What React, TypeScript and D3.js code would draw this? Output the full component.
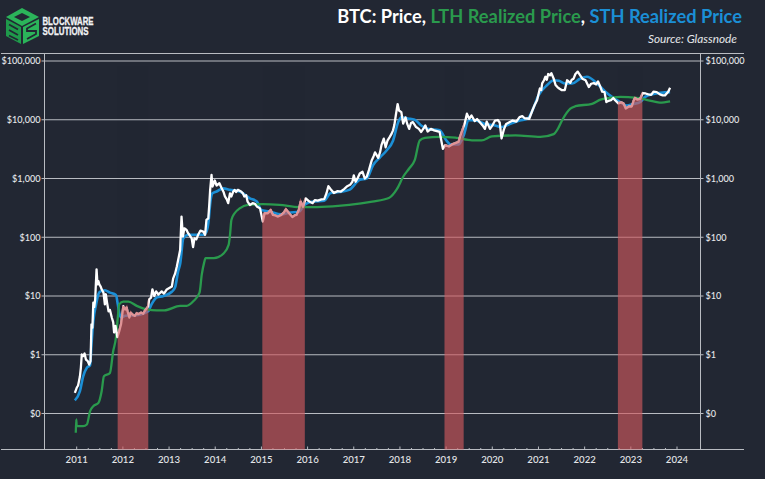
import React from "react";
import * as d3 from "d3";

type P = [number, number];

const priceSeries: P[] = [[2010.96,0.225],[2011,0.274],[2011.03,0.3],[2011.05,0.356],[2011.07,0.43],[2011.09,0.6],[2011.11,1.01],[2011.14,0.95],[2011.17,1.05],[2011.2,0.83],[2011.24,0.78],[2011.27,0.68],[2011.3,0.78],[2011.32,3.3],[2011.34,2.9],[2011.36,7.7],[2011.38,6.5],[2011.4,8.8],[2011.43,28.5],[2011.45,15.8],[2011.47,18],[2011.49,15.8],[2011.52,14.5],[2011.54,13],[2011.58,11.4],[2011.61,7.2],[2011.63,10.7],[2011.66,7.5],[2011.69,5.5],[2011.72,5.8],[2011.76,4.3],[2011.79,3.6],[2011.81,2.4],[2011.84,3.1],[2011.88,2],[2011.92,2.5],[2011.96,3.3],[2012.01,6.7],[2012.03,6],[2012.05,5.9],[2012.08,6.4],[2012.1,5.5],[2012.14,4.3],[2012.17,5.2],[2012.19,5],[2012.23,4.7],[2012.26,4.6],[2012.3,5.1],[2012.33,4.9],[2012.37,5.1],[2012.4,5.2],[2012.44,5],[2012.47,5.5],[2012.51,6.1],[2012.55,6.7],[2012.57,8.8],[2012.61,9.4],[2012.64,13],[2012.68,10],[2012.72,12],[2012.77,10.6],[2012.84,12],[2012.89,11],[2012.95,12.9],[2013.06,14.5],[2013.09,20],[2013.13,24],[2013.17,32],[2013.21,46],[2013.24,61],[2013.27,225],[2013.3,103],[2013.33,142],[2013.38,133],[2013.41,118],[2013.44,110],[2013.49,96],[2013.52,68],[2013.55,96],[2013.59,92],[2013.63,110],[2013.68,130],[2013.74,125],[2013.78,110],[2013.81,197],[2013.85,210],[2013.87,350],[2013.89,640],[2013.92,1150],[2013.94,730],[2013.99,925],[2014.03,760],[2014.09,830],[2014.14,680],[2014.18,590],[2014.21,495],[2014.25,440],[2014.28,380],[2014.32,560],[2014.35,495],[2014.39,600],[2014.42,640],[2014.45,590],[2014.49,640],[2014.56,600],[2014.6,560],[2014.63,495],[2014.67,520],[2014.7,405],[2014.75,355],[2014.81,380],[2014.86,370],[2014.9,335],[2014.97,310],[2015.03,185],[2015.07,256],[2015.14,256],[2015.2,292],[2015.25,240],[2015.3,235],[2015.36,225],[2015.43,240],[2015.49,265],[2015.53,300],[2015.6,256],[2015.67,220],[2015.72,235],[2015.76,240],[2015.81,290],[2015.85,405],[2015.9,330],[2015.96,460],[2016.04,405],[2016.11,380],[2016.16,430],[2016.22,420],[2016.3,440],[2016.36,445],[2016.41,560],[2016.45,740],[2016.5,655],[2016.57,565],[2016.65,610],[2016.72,600],[2016.79,660],[2016.86,740],[2016.92,780],[2016.97,880],[2017,1130],[2017.04,880],[2017.09,1040],[2017.13,1215],[2017.19,1300],[2017.24,1000],[2017.28,1070],[2017.33,1400],[2017.39,2050],[2017.43,2400],[2017.46,2780],[2017.53,2250],[2017.57,2800],[2017.6,3700],[2017.65,4770],[2017.69,3400],[2017.73,4400],[2017.78,5100],[2017.82,5800],[2017.85,6600],[2017.88,8200],[2017.91,11800],[2017.95,18500],[2017.98,14400],[2018.03,13500],[2018.07,8600],[2018.12,11000],[2018.16,8400],[2018.2,7000],[2018.24,8800],[2018.28,9100],[2018.35,7500],[2018.41,7000],[2018.46,6200],[2018.52,7300],[2018.55,8000],[2018.6,6300],[2018.67,7000],[2018.74,6600],[2018.8,6400],[2018.86,6200],[2018.93,3200],[2018.98,3700],[2019.06,3500],[2019.13,3800],[2019.2,4000],[2019.27,4200],[2019.3,5100],[2019.35,6600],[2019.4,8500],[2019.45,12700],[2019.5,10400],[2019.55,11800],[2019.62,9500],[2019.67,10300],[2019.73,9100],[2019.79,8000],[2019.84,7000],[2019.88,9300],[2019.95,7000],[2020.01,8200],[2020.06,9700],[2020.12,9900],[2020.16,9000],[2020.2,4800],[2020.25,6800],[2020.3,8500],[2020.37,9100],[2020.44,9700],[2020.52,9300],[2020.59,11100],[2020.65,11500],[2020.7,10600],[2020.8,10400],[2020.87,14500],[2020.92,18000],[2020.97,21500],[2021.03,34000],[2021.06,32000],[2021.08,41500],[2021.12,47000],[2021.15,54000],[2021.18,48000],[2021.21,60000],[2021.25,57000],[2021.28,62000],[2021.33,50000],[2021.37,39000],[2021.41,36000],[2021.45,34000],[2021.5,32000],[2021.57,32000],[2021.62,47000],[2021.69,42500],[2021.72,48000],[2021.76,50000],[2021.8,60000],[2021.85,66000],[2021.9,57500],[2021.95,50000],[2022.02,47000],[2022.09,36000],[2022.14,41000],[2022.2,42000],[2022.25,40000],[2022.29,45000],[2022.33,38000],[2022.38,30000],[2022.43,29500],[2022.47,20000],[2022.52,21000],[2022.57,21500],[2022.62,23500],[2022.66,21500],[2022.73,19000],[2022.79,19800],[2022.84,19000],[2022.89,15500],[2022.96,16800],[2023.02,16800],[2023.06,21000],[2023.09,23500],[2023.14,22000],[2023.2,22500],[2023.26,28500],[2023.32,28000],[2023.38,27000],[2023.44,26500],[2023.49,30000],[2023.56,29500],[2023.63,27000],[2023.69,26000],[2023.74,26000],[2023.81,30000],[2023.85,35000]];

const sthSeries: P[] = [[2010.96,0.167],[2011.07,0.24],[2011.14,0.43],[2011.22,0.6],[2011.29,0.66],[2011.32,1.5],[2011.36,3.75],[2011.42,7.2],[2011.47,10.7],[2011.5,11.8],[2011.61,12.5],[2011.72,11.4],[2011.85,10.4],[2011.89,7.2],[2011.92,5.2],[2011.97,4.3],[2012.05,4.6],[2012.3,4.7],[2012.55,5.5],[2012.62,7.2],[2012.73,9.4],[2012.88,10],[2013.06,11.8],[2013.13,14],[2013.2,27],[2013.24,35],[2013.31,96],[2013.42,110],[2013.74,110],[2013.81,125],[2013.85,173],[2013.9,430],[2013.94,560],[2014.03,600],[2014.17,680],[2014.32,640],[2014.53,600],[2014.75,460],[2014.9,405],[2015,290],[2015.17,275],[2015.43,245],[2015.6,262],[2015.82,275],[2015.93,355],[2016.11,405],[2016.36,420],[2016.5,565],[2016.68,590],[2016.9,640],[2017.13,950],[2017.28,1000],[2017.42,1700],[2017.57,2300],[2017.71,3000],[2017.85,4400],[2017.96,9000],[2018.03,11000],[2018.17,10500],[2018.32,10000],[2018.46,8000],[2018.6,7000],[2018.86,6600],[2019,4500],[2019.1,3800],[2019.27,3800],[2019.38,5400],[2019.49,9800],[2019.62,9800],[2019.84,8500],[2020.06,8000],[2020.2,7500],[2020.3,8000],[2020.59,9700],[2020.77,10500],[2020.87,14500],[2021,26000],[2021.19,39000],[2021.33,47000],[2021.44,46000],[2021.58,41500],[2021.73,41500],[2021.9,50000],[2022.05,54000],[2022.26,42000],[2022.45,30000],[2022.59,24500],[2022.77,20000],[2022.91,17500],[2023.05,18500],[2023.2,20000],[2023.31,24500],[2023.49,27500],[2023.85,29500]];

const lthSeries: P[] = [[2010.98,0.047],[2010.99,0.079],[2011,0.061],[2011.14,0.061],[2011.22,0.065],[2011.29,0.11],[2011.36,0.133],[2011.47,0.152],[2011.54,0.24],[2011.59,0.43],[2011.72,0.49],[2011.79,1.15],[2011.85,1.95],[2011.89,4.3],[2011.92,7.2],[2012.01,8],[2012.12,8],[2012.3,6.8],[2012.52,5.9],[2012.73,5.7],[2012.9,5.7],[2013.24,6.8],[2013.38,6.8],[2013.53,8.2],[2013.66,11.4],[2013.71,23.5],[2013.76,37],[2013.79,44],[2013.97,44],[2014.18,53],[2014.29,74],[2014.32,110],[2014.35,197],[2014.42,256],[2014.53,310],[2014.71,355],[2015.03,365],[2015.39,355],[2015.82,325],[2016.11,325],[2016.54,335],[2016.9,355],[2017.4,405],[2017.76,465],[2017.93,650],[2018.07,1070],[2018.2,1480],[2018.32,2050],[2018.43,4470],[2018.54,4900],[2018.86,5100],[2019.2,4950],[2019.56,4450],[2019.77,4450],[2019.99,5200],[2020.5,5400],[2021.04,5100],[2021.33,5700],[2021.44,7500],[2021.51,9700],[2021.69,15500],[2021.8,17000],[2022.16,18700],[2022.34,22000],[2022.55,23500],[2022.77,24500],[2023.13,23500],[2023.49,20500],[2023.63,19500],[2023.85,20500]];

const bandRanges: P[] = [[2011.887,2012.55],[2015.02,2015.94],[2018.965,2019.38],[2022.72,2023.25]];
const yearTicks = d3.range(2011, 2025);
const priceTicks = [0.1, 1, 10, 100, 1000, 10000, 100000];
const priceLabels = ["$0", "$1", "$10", "$100", "$1,000", "$10,000", "$100,000"];

const W = 765, H = 479;
const BG = "#222733", AXIS = "#b9bcc2", TXT = "#e6e7ea";
const WHITE = "#ffffff", GREEN = "#2a9a4d", BLUE = "#1b8fd6";
const plot = { left: 44.5, right: 700.5, top: 53.5, bottom: 449.5, lineEnd: 744 };

const x = d3.scaleLinear().domain([2011, 2024]).range([76.7, 677]);
const y = d3.scaleLog().domain([0.1, 100000]).range([413.5, 61]);
const lineGen = (c: d3.CurveFactory) => d3.line<P>().x(d => x(d[0])).y(d => y(d[1])).curve(c);
const priceLine = lineGen(d3.curveLinear);
const smooth = lineGen(d3.curveMonotoneX);
const bandArea = d3.area<P>().x(d => x(d[0])).y0(plot.bottom).y1(d => y(d[1])).curve(d3.curveLinear);

const font = "Lato, 'Open Sans', sans-serif";

function Logo() {
  const g1 = "#1f9a4b", g2 = "#2bb45a";
  const logoFont = "'Liberation Sans Narrow','Liberation Sans',sans-serif";
  return (
    <g>
      <polygon points="22,8 39,17 22,26 6,17" fill={g2} />
      <polygon points="22,13 30,17 22,21 14,17" fill={BG} />
      <polygon points="6,19 21,27 21,44 6,36" fill={g1} />
      <polygon points="23,27 39,19 39,36 23,44" fill={g2} />
      <path d="M9,24.5 L18,29.5 M9,30 L18,35 M9,35.5 L18,40" stroke={BG} strokeWidth={1.8} fill="none" />
      <path d="M36,23.5 L27,28.5 L27,31 L36,31 L36,34 L27,39" stroke={BG} strokeWidth={1.8} fill="none" />
      <text x={42.5} y={25} fontFamily={logoFont} fontWeight={700} fontSize={10.6} fill="#f2f3f5" stroke="#f2f3f5" strokeWidth={0.3} textLength={51} lengthAdjust="spacingAndGlyphs">BLOCKWARE</text>
      <text x={42.5} y={35} fontFamily={logoFont} fontWeight={700} fontSize={10.6} fill="#f2f3f5" stroke="#f2f3f5" strokeWidth={0.3} textLength={46} lengthAdjust="spacingAndGlyphs">SOLUTIONS</text>
    </g>
  );
}

export default function App() {
  const minor = d3.range(2011, 2024.01, 0.25).filter(t => !Number.isInteger(t));
  return (
    <svg width={W} height={H} viewBox={`0 0 ${W} ${H}`} style={{ position: "absolute", left: 0, top: 0, background: BG, display: "block" }}>
      <rect width={W} height={H} fill={BG} />
      <defs>
        <clipPath id="bands">
          {bandRanges.map((b, i) => (
            <rect key={i} x={x(b[0])} y={0} width={x(b[1]) - x(b[0])} height={plot.bottom} />
          ))}
        </clipPath>
      </defs>
      <Logo />
      <text x={742} y={23} textAnchor="end" fontFamily={font} fontWeight={700} fontSize={18.25} fill={WHITE}>
        BTC: Price, <tspan fill={GREEN}>LTH Realized Price</tspan><tspan fill={WHITE}>, </tspan><tspan fill={BLUE}>STH Realized Price</tspan>
      </text>
      <text x={737} y={43} textAnchor="end" fontFamily={font} fontStyle="italic" fontSize={11.8} fill={TXT}>Source: Glassnode</text>

      <line x1={1} x2={plot.lineEnd} y1={plot.top} y2={plot.top} stroke={AXIS} strokeWidth={1} />
      <line x1={1} x2={plot.lineEnd} y1={plot.bottom} y2={plot.bottom} stroke={AXIS} strokeWidth={1} />
      <line x1={plot.left} x2={plot.left} y1={plot.top} y2={plot.bottom} stroke={AXIS} strokeWidth={1} />
      <line x1={plot.right} x2={plot.right} y1={plot.top} y2={plot.bottom} stroke={AXIS} strokeWidth={1} />
      {priceTicks.map((t, i) => (
        <g key={t}>
          <line x1={plot.left - 3} x2={plot.right + 3} y1={y(t)} y2={y(t)} stroke={AXIS} strokeWidth={1} />
          <text x={plot.left - 4} y={y(t) + 3.3} textAnchor="end" fontFamily={font} fontSize={9.1} fontWeight={500} fill={TXT}>{priceLabels[i]}</text>
          <text x={plot.right + 5} y={y(t) + 3.3} fontFamily={font} fontSize={9.1} fontWeight={500} fill={TXT}>{priceLabels[i]}</text>
        </g>
      ))}
      {yearTicks.map(t => (
        <g key={t}>
          <line x1={x(t)} x2={x(t)} y1={plot.bottom} y2={plot.bottom - 3} stroke={AXIS} />
          <text x={x(t)} y={463} textAnchor="middle" fontFamily={font} fontSize={9.6} fontWeight={500} fill={TXT}>{t}</text>
        </g>
      ))}
      {minor.map(t => (
        <line key={t} x1={x(t)} x2={x(t)} y1={plot.bottom} y2={plot.bottom - 1.5} stroke={AXIS} />
      ))}

      <path d={smooth(sthSeries) ?? ""} fill="none" stroke={BLUE} strokeWidth={2.6} />
      <path d={smooth(lthSeries) ?? ""} fill="none" stroke={GREEN} strokeWidth={2.3} />
      <path d={priceLine(priceSeries) ?? ""} fill="none" stroke={WHITE} strokeWidth={2.3} strokeLinejoin="round" />
      <g clipPath="url(#bands)">
        <path d={bandArea(priceSeries) ?? ""} fill="#cf5a5f" stroke="#cf5a5f" strokeWidth={2.4} opacity={0.65} />
      </g>
    </svg>
  );
}
